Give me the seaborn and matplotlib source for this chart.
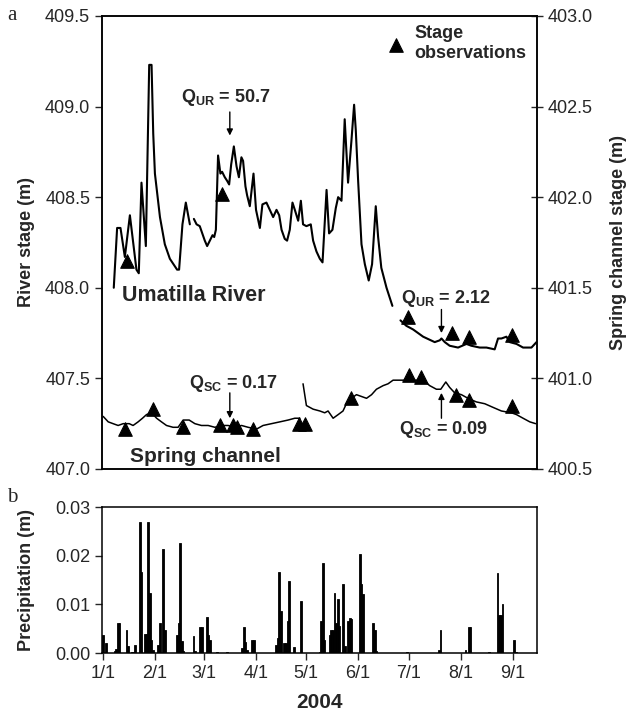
import numpy as np
import pandas as pd
import matplotlib
matplotlib.use("Agg")
import matplotlib.pyplot as plt
import seaborn as sns

# dias contados desde el 1/1/2004
river_day_1 = [6.5, 8.5, 10.5, 13.1, 16.1, 20.0, 21.4, 23.0, 25.6, 27.6, 29.0, 30.0, 31.0,
               34.0, 36.9, 39.9, 44.2, 45.4, 47.4, 49.4, 51.0, 51.8]
river_m_1 = [408.00, 408.33, 408.33, 408.17, 408.40, 408.10, 408.08, 408.58, 408.23, 409.23,
             409.23, 408.85, 408.63, 408.39, 408.24, 408.16, 408.10, 408.10, 408.35, 408.47,
             408.39, 408.35]
river_day_2 = [54.2, 55.8, 57.7, 60.7, 62.1, 63.7, 65.3, 66.3, 67.3, 68.6, 70.0, 71.0, 72.6,
               74.0, 75.2, 76.4, 78.0, 79.6, 81.0, 82.5, 83.5, 84.9, 85.9, 87.5, 89.7, 91.2,
               93.5, 95.0, 97.4, 99.4, 101.4, 103.4, 105.0, 106.4, 108.3, 109.7, 111.3, 112.9,
               114.3, 116.3, 117.9, 119.2, 121.2, 123.8, 125.2, 127.2, 129.2, 130.8, 133.2,
               134.7, 136.7, 138.7, 140.1, 142.1, 144.0, 146.0, 148.0, 149.6, 150.6, 152.0,
               154.0, 156.0, 158.3, 160.3, 162.5, 163.9, 165.8, 168.9, 172.4]
river_m_2 = [408.38, 408.35, 408.34, 408.26, 408.23, 408.26, 408.29, 408.28, 408.32, 408.73,
             408.63, 408.64, 408.61, 408.59, 408.57, 408.68, 408.78, 408.67, 408.61, 408.72,
             408.70, 408.56, 408.51, 408.45, 408.63, 408.43, 408.33, 408.46, 408.47, 408.43,
             408.39, 408.43, 408.40, 408.32, 408.27, 408.26, 408.32, 408.47, 408.43, 408.37,
             408.48, 408.35, 408.34, 408.35, 408.26, 408.20, 408.16, 408.14, 408.54, 408.30,
             408.32, 408.44, 408.50, 408.48, 408.93, 408.58, 408.81, 409.01, 408.87, 408.59,
             408.24, 408.13, 408.04, 408.13, 408.45, 408.28, 408.11, 408.00, 407.90]
river_day_3 = [177.2, 180.7, 184.7, 190.7, 197.6, 200.6, 201.6, 203.6, 206.5, 211.5, 216.5,
               219.4, 224.4, 228.4, 233.3, 235.3, 237.3, 240.3, 242.3, 246.3, 250.2, 255.2, 258.2]
river_m_3 = [407.82, 407.79, 407.77, 407.73, 407.70, 407.71, 407.72, 407.70, 407.68, 407.67,
             407.69, 407.68, 407.67, 407.67, 407.66, 407.72, 407.72, 407.73, 407.70, 407.69,
             407.67, 407.67, 407.70]

spring_day_1 = [0.2, 3.2, 6.1, 9.1, 12.1, 15.7, 18.0, 21.0, 23.6, 26.0, 29.0, 32.0, 34.9, 37.9,
                41.8, 44.8, 47.8, 51.4, 54.8, 58.7, 62.7, 66.7, 70.7, 74.6, 78.6, 82.6, 86.5,
                91.5, 95.4, 100.4, 105.4, 110.3, 114.3, 117.3]
spring_m_1 = [400.79, 400.76, 400.75, 400.74, 400.75, 400.75, 400.74, 400.76, 400.78, 400.80,
              400.81, 400.78, 400.76, 400.74, 400.73, 400.73, 400.77, 400.77, 400.75, 400.74,
              400.74, 400.73, 400.74, 400.74, 400.73, 400.74, 400.73, 400.72, 400.74, 400.75,
              400.76, 400.77, 400.78, 400.78]
spring_day_2 = [119.2, 121.2, 125.2, 129.2, 132.1, 134.1, 137.1, 140.1, 143.0, 145.0, 148.0,
                151.0, 154.0, 157.0, 160.0, 162.9, 166.9, 169.8, 172.8, 176.8, 180.8, 184.7,
                190.7, 194.6, 198.6, 201.2, 204.2, 206.5, 209.5, 213.5, 217.4, 222.4, 227.4,
                232.3, 237.3, 243.3, 246.3, 250.2, 254.2, 257.7]
spring_m_2 = [400.97, 400.85, 400.83, 400.82, 400.81, 400.82, 400.78, 400.80, 400.82, 400.86,
              400.89, 400.91, 400.90, 400.89, 400.91, 400.94, 400.96, 400.97, 400.99, 400.99,
              400.99, 400.99, 400.99, 400.96, 400.94, 400.94, 400.98, 400.95, 400.92, 400.91,
              400.89, 400.87, 400.86, 400.84, 400.82, 400.81, 400.80, 400.78, 400.76, 400.75]

obs_river_day = [14.1, 71.0, 181.7, 208.1, 218.0, 243.9]
obs_river_m = [408.15, 408.52, 407.84, 407.75, 407.73, 407.74]
obs_spring_day = [13.1, 29.6, 47.8, 70.0, 77.6, 79.6, 89.5, 116.8, 120.2, 148.0, 182.3, 189.7,
                  210.5, 218.0, 243.8]
obs_spring_m = [400.72, 400.83, 400.73, 400.74, 400.74, 400.73, 400.72, 400.75, 400.75, 400.89,
                401.02, 401.01, 400.91, 400.88, 400.85]

precip_day = [0, 2, 7, 8, 9, 10, 14, 15, 17, 18, 19, 22, 23, 25, 26, 27, 28, 29, 30, 33, 34,
              36, 37, 44, 45, 46, 47, 48, 54, 55, 58, 59, 62, 63, 64, 68, 74, 83, 84, 85, 86,
              89, 90, 103, 104, 105, 106, 108, 109, 110, 111, 114, 118, 129, 130, 131, 132,
              135, 136, 137, 138, 139, 140, 141, 143, 144, 146, 147, 148, 153, 154, 155, 161,
              162, 163, 181, 200, 201, 216, 218, 219, 230, 235, 236, 237, 238, 245, 246]
precip_m = [0.0036, 0.0021, 0.0004, 0.0008, 0.0062, 0.0062, 0.0047, 0.0014, 0.0003, 0.0003,
            0.0017, 0.0269, 0.0166, 0.0040, 0.0040, 0.0270, 0.0123, 0.0026, 0.0006, 0.0017,
            0.0061, 0.0214, 0.0047, 0.0036, 0.0061, 0.0226, 0.0025, 0.0005, 0.0034, 0.0005,
            0.0054, 0.0054, 0.0074, 0.0036, 0.0026, 0.0003, 0.0003, 0.0010, 0.0054, 0.0022,
            0.0006, 0.0026, 0.0026, 0.0017, 0.0031, 0.0166, 0.0086, 0.0021, 0.0021, 0.0066,
            0.0148, 0.0012, 0.0107, 0.0003, 0.0066, 0.0185, 0.0026, 0.0038, 0.0048, 0.0048,
            0.0124, 0.0061, 0.0112, 0.0055, 0.0141, 0.0014, 0.0066, 0.0072, 0.0069, 0.0203,
            0.0141, 0.0121, 0.0061, 0.0047, 0.0004, 0.0003, 0.0006, 0.0047, 0.0007, 0.0054,
            0.0054, 0.0003, 0.0164, 0.0079, 0.0079, 0.0100, 0.0026, 0.0003]

month_labels = ["1/1", "2/1", "3/1", "4/1", "5/1", "6/1", "7/1", "8/1", "9/1"]

sns.set_style("ticks")
plt.rcParams["font.family"] = ["Liberation Sans", "DejaVu Sans"]
plt.rcParams["mathtext.fontset"] = "custom"
plt.rcParams["mathtext.rm"] = "Liberation Sans"
plt.rcParams["mathtext.bf"] = "Liberation Sans:bold"
plt.rcParams["axes.linewidth"] = 1.1
plt.rcParams["axes.edgecolor"] = "black"

river = pd.concat([
    pd.DataFrame({"dia": river_day_1, "nivel": river_m_1, "tramo": 1}),
    pd.DataFrame({"dia": river_day_2, "nivel": river_m_2, "tramo": 2}),
    pd.DataFrame({"dia": river_day_3, "nivel": river_m_3, "tramo": 3}),
])
spring = pd.concat([
    pd.DataFrame({"dia": spring_day_1, "nivel": spring_m_1, "tramo": 1}),
    pd.DataFrame({"dia": spring_day_2, "nivel": spring_m_2, "tramo": 2}),
])

inicio = pd.Timestamp("2004-01-01")
ticks_x = [(pd.Timestamp(f"2004-{m}-01") - inicio).days for m in range(1, 10)]

fig = plt.figure(figsize=(6.34, 7.15), dpi=100)
ax = fig.add_axes([0.1609, 0.3441, 0.6861, 0.6336])
ax2 = ax.twinx()
axb = fig.add_axes([0.1609, 0.0867, 0.6861, 0.2042])

sns.lineplot(data=river, x="dia", y="nivel", units="tramo", estimator=None, sort=False,
             color="black", lw=1.5, ax=ax)
sns.scatterplot(x=obs_river_day, y=obs_river_m, marker="^", s=95, color="black",
                edgecolor="black", label="Stage\nobservations", ax=ax, zorder=3)
sns.lineplot(data=spring, x="dia", y="nivel", units="tramo", estimator=None, sort=False,
             color="black", lw=1.1, ax=ax2)
sns.scatterplot(x=obs_spring_day, y=obs_spring_m, marker="^", s=95, color="black",
                edgecolor="black", legend=False, ax=ax2, zorder=3)

xmin, xmax = -0.5, 258.5
for a in (ax, ax2, axb):
    a.set_xlim(xmin, xmax)

ax.set_ylim(407.0, 409.5)
ax.set_yticks(np.arange(407.0, 409.51, 0.5))
ax.set_yticklabels([f"{v:.1f}" for v in np.arange(407.0, 409.51, 0.5)])
ax2.set_ylim(400.5, 403.0)
ax2.set_yticks(np.arange(400.5, 403.01, 0.5))
ax2.set_yticklabels([f"{v:.1f}" for v in np.arange(400.5, 403.01, 0.5)])
ax.tick_params(axis="x", bottom=False, labelbottom=False)
ax.tick_params(axis="y", direction="out", length=5, width=1, labelsize=13)
ax2.tick_params(axis="y", direction="inout", length=9, width=1, labelsize=13)
ax.set_xlabel("")
ax.set_ylabel("River stage (m)", fontsize=13, fontweight="bold")
ax.yaxis.set_label_coords(-0.155, 0.5)
ax2.set_ylabel("Spring channel stage (m)", fontsize=13, fontweight="bold", labelpad=12)

ax.legend(loc="upper left", bbox_to_anchor=(0.655, 0.98), frameon=False, borderpad=0,
          borderaxespad=0, handlelength=1.0, handletextpad=0.5,
          prop={"weight": "bold", "size": 13})

ax.text(11.3, 407.96, "Umatilla River", fontsize=15.5, fontweight="bold", va="center")
ax.text(16, 407.07, "Spring channel", fontsize=15, fontweight="bold", va="center")

flecha = dict(arrowstyle="-|>", color="black", lw=1, mutation_scale=9, shrinkA=0, shrinkB=0)
ax.text(73.5, 409.05, r"Q$_\mathbf{UR}$ = 50.7", fontsize=13, fontweight="bold",
        ha="center", va="center")
ax.annotate("", xy=(75.6, 408.84), xytext=(75.6, 408.97), arrowprops=flecha)
ax.text(204.5, 407.94, r"Q$_\mathbf{UR}$ = 2.12", fontsize=13, fontweight="bold",
        ha="center", va="center")
ax.annotate("", xy=(201.6, 407.75), xytext=(201.6, 407.88), arrowprops=flecha)
ax.text(77.7, 407.47, r"Q$_\mathbf{SC}$ = 0.17", fontsize=13, fontweight="bold",
        ha="center", va="center")
ax.annotate("", xy=(75.6, 407.28), xytext=(75.6, 407.42), arrowprops=flecha)
ax.text(203, 407.22, r"Q$_\mathbf{SC}$ = 0.09", fontsize=13, fontweight="bold",
        ha="center", va="center")
ax.annotate("", xy=(201.6, 407.42), xytext=(201.6, 407.28), arrowprops=flecha)

axb.bar(precip_day, precip_m, width=1.0, color="black", edgecolor="black", linewidth=0.6)
axb.set_ylim(0, 0.03)
axb.set_yticks([0, 0.01, 0.02, 0.03])
axb.set_yticklabels(["0.00", "0.01", "0.02", "0.03"])
axb.set_xticks(ticks_x)
axb.set_xticklabels(month_labels)
axb.tick_params(direction="out", length=5, width=1, labelsize=13)
axb.set_ylabel("Precipitation (m)", fontsize=13, fontweight="bold")
axb.yaxis.set_label_coords(-0.155, 0.5)
axb.set_xlabel("2004", fontsize=15, fontweight="bold", labelpad=8)

fig.text(7 / 634, 1 - 16 / 715, "a", family="Liberation Serif", fontsize=15, va="center")
fig.text(7 / 634, 1 - 497 / 715, "b", family="Liberation Serif", fontsize=15, va="center")

fig.savefig("out.png", dpi=100)
